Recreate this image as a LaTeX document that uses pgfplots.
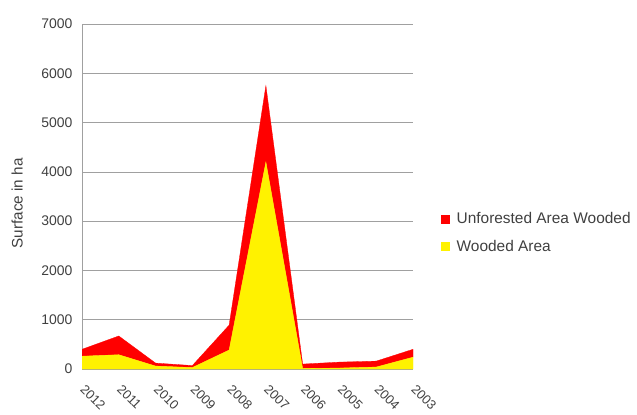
\documentclass[border=0pt]{standalone}
\usepackage{fontspec}
\setmainfont{Liberation Sans}
\usepackage{pgfplots}
\pgfplotsset{compat=1.18}

\definecolor{txt}{HTML}{404040}
\definecolor{gridc}{HTML}{A0A0A0}

\begin{document}
\begin{tikzpicture}[x=1bp,y=1bp]
\path[use as bounding box] (0,0) rectangle (637,414);
\begin{axis}[
  at={(82bp,45bp)}, anchor=south west,
  scale only axis, width=331bp, height=345bp,
  xmin=0, xmax=9, ymin=0, ymax=7000,
  xtick={0,...,9},
  xticklabels={2012,2011,2010,2009,2008,2007,2006,2005,2004,2003},
  ytick={0,1000,...,7000},
  ymajorgrids, grid style={gridc, line width=0.6pt},
  axis x line*=bottom, axis y line*=left,
  axis line style={gridc, -, line width=0.6pt},
  major tick length=0pt,
  stack plots=y,
  font=\fontsize{14}{16}\selectfont,
  tick label style={text=txt, font=\fontsize{14}{16}\selectfont},
  /pgf/number format/assume math mode=true,
  /pgf/number format/1000 sep={},
  yticklabel style={xshift=-6bp},
  x tick label style={xshift=4bp, yshift=-10bp, rotate=-45, anchor=north west,
    font=\fontsize{13}{15}\selectfont},
  ylabel={Surface in ha},
  ylabel style={text=txt, font=\fontsize{15.3}{17}\selectfont,
    at={(axis description cs:-0.196,0.48)}, anchor=center},
  legend style={draw=none, fill=none, at={(axis description cs:1.085,0.395)}, anchor=west,
    text=txt, font=\fontsize{15.5}{17}\selectfont, row sep=11bp, inner sep=0pt,
    cells={anchor=west}},
  legend image code/.code={\fill[#1] (0bp,-4bp) rectangle (8bp,4bp); \path (13bp,0bp);},
  reverse legend,
]
\addplot[fill=yellow, draw=yellow, line width=0.3pt] coordinates {
  (0,260) (1,290) (2,60) (3,30) (4,385) (5,4200) (6,10) (7,20) (8,40) (9,240)
} \closedcycle;
\addlegendentry{Wooded Area}
\addplot[fill=red, draw=red, line width=0.3pt] coordinates {
  (0,140) (1,380) (2,60) (3,40) (4,505) (5,1550) (6,90) (7,120) (8,120) (9,160)
} \closedcycle;
\addlegendentry{Unforested Area Wooded}
\end{axis}
\end{tikzpicture}
\end{document}
